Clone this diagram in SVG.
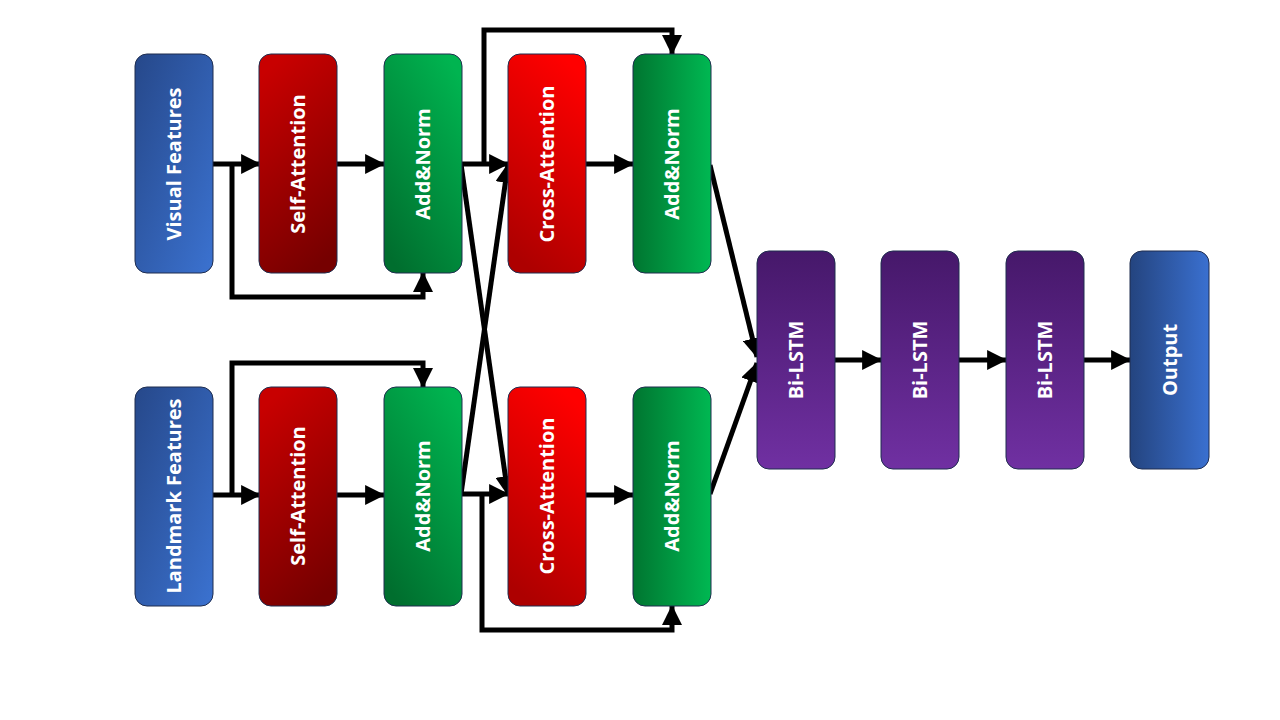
<svg xmlns="http://www.w3.org/2000/svg" width="1280" height="720" viewBox="0 0 1280 720">
<defs>
<linearGradient id="gBlueDiag" x1="0" y1="0" x2="1" y2="1"><stop offset="0" stop-color="#26488a"/><stop offset="1" stop-color="#3b72d0"/></linearGradient>
<linearGradient id="gBlueH" x1="0" y1="0" x2="1" y2="0"><stop offset="0" stop-color="#24447f"/><stop offset="1" stop-color="#3a70d0"/></linearGradient>
<linearGradient id="gRed1" x1="0.35" y1="0" x2="0.65" y2="1"><stop offset="0" stop-color="#c80000"/><stop offset="1" stop-color="#760000"/></linearGradient>
<linearGradient id="gRed2" x1="0.65" y1="0" x2="0.35" y2="1"><stop offset="0" stop-color="#ff0000"/><stop offset="1" stop-color="#ad0000"/></linearGradient>
<linearGradient id="gGreen1" x1="0.8" y1="0" x2="0.2" y2="1"><stop offset="0" stop-color="#00b450"/><stop offset="1" stop-color="#006e2e"/></linearGradient>
<linearGradient id="gGreen2" x1="0" y1="0" x2="1" y2="0"><stop offset="0" stop-color="#007530"/><stop offset="1" stop-color="#00b852"/></linearGradient>
<linearGradient id="gPurple" x1="0" y1="0" x2="0" y2="1"><stop offset="0" stop-color="#46186a"/><stop offset="1" stop-color="#7030a2"/></linearGradient>
<marker id="ah" markerUnits="userSpaceOnUse" markerWidth="20" markerHeight="20" viewBox="0 0 18 18" refX="17" refY="9" orient="auto"><path d="M0,0 L18,9 L0,18 z" fill="#000"/></marker>
<style>
.box{stroke:#1f2d4f;stroke-width:1}
.lbl{font-family:"Open Sans","Noto Sans","DejaVu Sans",sans-serif;font-weight:bold;font-size:20px;fill:#fff;text-anchor:middle}
.c{fill:none;stroke:#000;stroke-width:5}
.a{marker-end:url(#ah)}
</style>
</defs>
<g id="connectors">
<path class="c a" d="M212,164 H260"/>
<path class="c a" d="M232,164 V297 H423 V273"/>
<path class="c a" d="M336,164 H384"/>
<path class="c a" d="M461,164 H508"/>
<path class="c a" d="M484,164 V30 H672 V54"/>
<path class="c a" d="M585,164 H633"/>
<path class="c a" d="M461,164 L508,495"/>
<path class="c a" d="M461,494 L508,164"/>
<path class="c a" d="M710,165 L757,357"/>
<path class="c a" d="M710,494 L757,363"/>
<path class="c a" d="M212,495 H260"/>
<path class="c a" d="M232,495 V363 H423 V387"/>
<path class="c a" d="M336,495 H384"/>
<path class="c a" d="M461,494 H508"/>
<path class="c a" d="M482,494 V630 H672 V606"/>
<path class="c a" d="M585,495 H633"/>
<path class="c a" d="M835,360 H881"/>
<path class="c a" d="M959,360 H1006"/>
<path class="c a" d="M1084,360 H1130"/>
</g>
<g id="visual"><rect class="box" x="135" y="54" width="78" height="219" rx="12" fill="url(#gBlueDiag)"/><text class="lbl" transform="translate(174,164) rotate(-90)" dy="7">Visual Features</text></g>
<g id="selfattn1"><rect class="box" x="259" y="54" width="78" height="219" rx="12" fill="url(#gRed1)"/><text class="lbl" transform="translate(298,164) rotate(-90)" dy="7">Self-Attention</text></g>
<g id="addnorm1"><rect class="box" x="384" y="54" width="78" height="219" rx="12" fill="url(#gGreen1)"/><text class="lbl" transform="translate(423,164) rotate(-90)" dy="7">Add&amp;Norm</text></g>
<g id="crossattn1"><rect class="box" x="508" y="54" width="78" height="219" rx="12" fill="url(#gRed2)"/><text class="lbl" transform="translate(547,164) rotate(-90)" dy="7">Cross-Attention</text></g>
<g id="addnorm2"><rect class="box" x="633" y="54" width="78" height="219" rx="12" fill="url(#gGreen2)"/><text class="lbl" transform="translate(672,164) rotate(-90)" dy="7">Add&amp;Norm</text></g>
<g id="landmark"><rect class="box" x="135" y="387" width="78" height="219" rx="12" fill="url(#gBlueDiag)"/><text class="lbl" transform="translate(174,496) rotate(-90)" dy="7">Landmark Features</text></g>
<g id="selfattn2"><rect class="box" x="259" y="387" width="78" height="219" rx="12" fill="url(#gRed1)"/><text class="lbl" transform="translate(298,496) rotate(-90)" dy="7">Self-Attention</text></g>
<g id="addnorm3"><rect class="box" x="384" y="387" width="78" height="219" rx="12" fill="url(#gGreen1)"/><text class="lbl" transform="translate(423,496) rotate(-90)" dy="7">Add&amp;Norm</text></g>
<g id="crossattn2"><rect class="box" x="508" y="387" width="78" height="219" rx="12" fill="url(#gRed2)"/><text class="lbl" transform="translate(547,496) rotate(-90)" dy="7">Cross-Attention</text></g>
<g id="addnorm4"><rect class="box" x="633" y="387" width="78" height="219" rx="12" fill="url(#gGreen2)"/><text class="lbl" transform="translate(672,496) rotate(-90)" dy="7">Add&amp;Norm</text></g>
<g id="bilstm1"><rect class="box" x="757" y="251" width="78" height="218" rx="12" fill="url(#gPurple)"/><text class="lbl" transform="translate(796,360) rotate(-90)" dy="7">Bi-LSTM</text></g>
<g id="bilstm2"><rect class="box" x="881" y="251" width="78" height="218" rx="12" fill="url(#gPurple)"/><text class="lbl" transform="translate(920,360) rotate(-90)" dy="7">Bi-LSTM</text></g>
<g id="bilstm3"><rect class="box" x="1006" y="251" width="78" height="218" rx="12" fill="url(#gPurple)"/><text class="lbl" transform="translate(1045,360) rotate(-90)" dy="7">Bi-LSTM</text></g>
<g id="output"><rect class="box" x="1130" y="251" width="79" height="218" rx="12" fill="url(#gBlueH)"/><text class="lbl" transform="translate(1170,360) rotate(-90)" dy="7">Output</text></g>
</svg>
